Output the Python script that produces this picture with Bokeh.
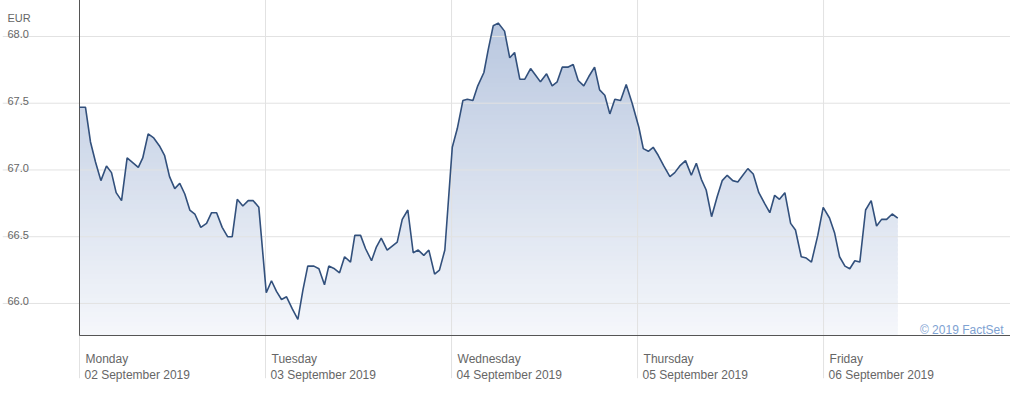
import numpy as np
from bokeh.plotting import figure
from bokeh.models import Span
from bokeh.core.properties import value
from bokeh.embed import file_html
from bokeh.resources import INLINE

# ---------------- data ----------------
# x: position in trading days (0 = Monday 02 Sep 2019 open, 1 = Tuesday open, ...)
x_days = [
    0.000, 0.032, 0.059, 0.086, 0.115, 0.145, 0.172, 0.197, 0.226, 0.256,
    0.316, 0.340, 0.369, 0.399, 0.430, 0.457, 0.484, 0.512, 0.539, 0.566,
    0.593, 0.620, 0.652, 0.683, 0.710, 0.737, 0.767, 0.796, 0.821, 0.848,
    0.878, 0.907, 0.934, 0.964,
    1.004, 1.032, 1.059, 1.086, 1.113, 1.144, 1.174, 1.201, 1.227, 1.260,
    1.287, 1.317, 1.340, 1.371, 1.398, 1.425, 1.457, 1.480, 1.511, 1.538,
    1.570, 1.595, 1.622, 1.654, 1.681, 1.708, 1.735, 1.765, 1.794, 1.821,
    1.851, 1.878, 1.909, 1.935, 1.964,
    2.004, 2.031, 2.061, 2.085, 2.115, 2.141, 2.174, 2.197, 2.224, 2.251,
    2.285, 2.313, 2.339, 2.367, 2.394, 2.425, 2.452, 2.478, 2.511, 2.541,
    2.568, 2.595, 2.625, 2.654, 2.681, 2.711, 2.738, 2.769, 2.796, 2.824,
    2.851, 2.878, 2.909, 2.939, 2.971,
    3.007, 3.031, 3.058, 3.084, 3.111, 3.141, 3.174, 3.200, 3.227, 3.258,
    3.289, 3.316, 3.343, 3.369, 3.398, 3.428, 3.455, 3.482, 3.512, 3.539,
    3.566, 3.593, 3.622, 3.652, 3.683, 3.711, 3.737, 3.763, 3.792, 3.823,
    3.849, 3.880, 3.907, 3.935, 3.969,
    3.998, 4.032, 4.059, 4.086, 4.115, 4.141, 4.168, 4.195, 4.226, 4.256,
    4.285, 4.312, 4.339, 4.369, 4.399,
]
price_eur = [
    67.47, 67.47, 67.21, 67.06, 66.92, 67.03, 66.98, 66.83, 66.77, 67.09,
    67.02, 67.09, 67.27, 67.24, 67.18, 67.11, 66.95, 66.86, 66.90, 66.82,
    66.70, 66.67, 66.57, 66.60, 66.68, 66.68, 66.57, 66.50, 66.50, 66.78,
    66.73, 66.77, 66.77, 66.72,
    66.08, 66.17, 66.09, 66.03, 66.05, 65.96, 65.88, 66.10, 66.28, 66.28,
    66.26, 66.14, 66.28, 66.26, 66.23, 66.35, 66.31, 66.51, 66.51, 66.41,
    66.32, 66.42, 66.49, 66.40, 66.43, 66.46, 66.63, 66.70, 66.38, 66.40,
    66.36, 66.40, 66.22, 66.25, 66.40,
    67.17, 67.31, 67.52, 67.53, 67.52, 67.63, 67.73, 67.90, 68.08, 68.10,
    68.04, 67.84, 67.88, 67.68, 67.68, 67.76, 67.71, 67.66, 67.72, 67.63,
    67.66, 67.77, 67.77, 67.79, 67.67, 67.63, 67.70, 67.77, 67.60, 67.56,
    67.42, 67.53, 67.52, 67.64, 67.50,
    67.32, 67.16, 67.14, 67.17, 67.11, 67.03, 66.95, 66.98, 67.03, 67.07,
    66.96, 67.05, 66.93, 66.85, 66.65, 66.80, 66.92, 66.96, 66.92, 66.91,
    66.96, 67.01, 66.97, 66.83, 66.75, 66.68, 66.81, 66.78, 66.83, 66.60,
    66.55, 66.35, 66.34, 66.31, 66.51,
    66.72, 66.64, 66.53, 66.35, 66.28, 66.26, 66.32, 66.31, 66.70, 66.77,
    66.58, 66.63, 66.63, 66.67, 66.64,
]
day_ticks = [0, 1, 2, 3, 4]
day_names = ["Monday", "Tuesday", "Wednesday", "Thursday", "Friday"]
day_dates = ["02 September 2019", "03 September 2019", "04 September 2019",
             "05 September 2019", "06 September 2019"]
y_ticks = [66.0, 66.5, 67.0, 67.5, 68.0]
y_tick_labels = ["66.0", "66.5", "67.0", "67.5", "68.0"]
currency_label = "EUR"
credit_label = "\u00a9 2019 FactSet"

# ---------------- ranges / layout ----------------
X_LO, X_HI = -0.414, 5.005
Y_LO, Y_HI = 65.378, 68.217
AXIS_Y = 65.76          # value where the x axis line sits
VLINE_BOTTOM = 65.44    # day separators run down through the label area
FONT = value("Liberation Sans")
GRID = "#e2e2e2"
TEXT = "#666666"

p = figure(width=1010, height=386, x_range=(X_LO, X_HI), y_range=(Y_LO, Y_HI),
           x_axis_type=None, y_axis_type=None, toolbar_location=None,
           output_backend="svg", min_border=0, min_border_left=2, min_border_top=7,
           outline_line_color=None,
           background_fill_color="white", border_fill_color="white")

# gradient area: horizontal colour bands (only up to the series maximum),
# then a white mask above the price line
n = 70
edges = np.linspace(AXIS_Y, Y_HI, n + 1)
keep = edges[:-1] < max(price_eur)
lo_e = edges[:-1][keep]
hi_e = edges[1:][keep]
mid = (lo_e + hi_e) / 2
frac = (mid - AXIS_Y) / (Y_HI - AXIS_Y)
bot = np.array([245, 247, 251])
top = np.array([182, 197, 222])
cols = ["#%02x%02x%02x" % tuple(int(round(c)) for c in (bot + (top - bot) * f)) for f in frac]
step = edges[1] - edges[0]
p.quad(left=x_days[0], right=x_days[-1], bottom=lo_e, top=hi_e + step * 0.6,
       fill_color=cols, line_color=None)
mask_x = list(x_days) + [x_days[-1] + 0.05]
mask_y = list(price_eur) + [price_eur[-1]]
p.varea(x=mask_x, y1=mask_y, y2=max(price_eur) + 0.05, fill_color="white")

# grid
for yt in y_ticks:
    p.add_layout(Span(location=yt, dimension="width", line_color=GRID, line_width=1))
p.segment(x0=day_ticks, x1=day_ticks, y0=VLINE_BOTTOM, y1=Y_HI + 0.3,
          line_color=GRID, line_width=1, level="annotation")

# axis lines
p.segment(x0=[day_ticks[0], day_ticks[0]], x1=[day_ticks[0], X_HI],
          y0=[AXIS_Y, AXIS_Y], y1=[Y_HI + 0.3, AXIS_Y],
          line_color="#555555", line_width=1, level="overlay")

# price line
p.line(x_days, price_eur, line_color="#32507c", line_width=1.6, level="overlay")

# y tick labels + currency
p.text(x=[X_LO] * len(y_ticks), y=y_ticks, text=y_tick_labels, x_offset=5, y_offset=-2,
       text_align="left", text_baseline="alphabetic", text_font=FONT,
       text_font_size="11px", text_color=TEXT, level="overlay")
p.text(x=[X_LO], y=[y_ticks[-1]], text=[currency_label], x_offset=5, y_offset=-18,
       text_align="left", text_baseline="alphabetic", text_font=FONT,
       text_font_size="11px", text_color=TEXT, level="overlay")

# x labels (two lines, left aligned after each day separator)
p.text(x=day_ticks, y=[AXIS_Y] * 5, text=day_names, x_offset=6, y_offset=23,
       text_align="left", text_baseline="alphabetic", text_font=FONT,
       text_font_size="12px", text_color=TEXT, level="overlay")
p.text(x=day_ticks, y=[AXIS_Y] * 5, text=day_dates, x_offset=5, y_offset=39,
       text_align="left", text_baseline="alphabetic", text_font=FONT,
       text_font_size="12px", text_color=TEXT, level="overlay")

# credit
p.text(x=[X_HI], y=[AXIS_Y], text=[credit_label], x_offset=-7, y_offset=-6,
       text_align="right", text_baseline="alphabetic", text_font=FONT,
       text_font_size="12px", text_color="#7ea2d2", level="overlay")

open("out.html", "w").write(file_html(p, INLINE))
